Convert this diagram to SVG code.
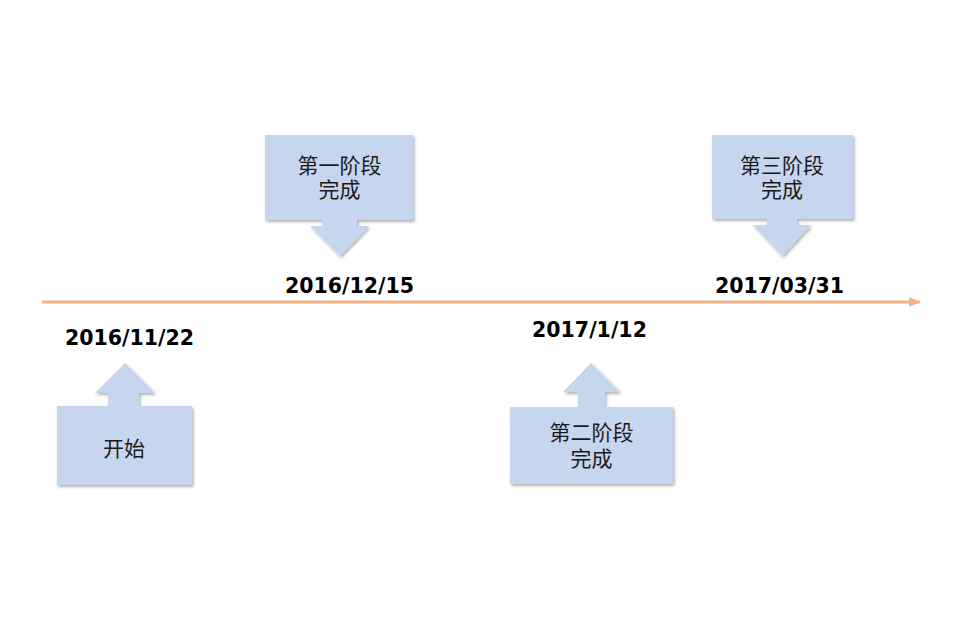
<svg xmlns="http://www.w3.org/2000/svg" width="979" height="642" viewBox="0 0 979 642">
<defs>
<filter id="sh" x="-10%" y="-10%" width="130%" height="130%">
<feDropShadow dx="1.5" dy="2" stdDeviation="1.5" flood-color="#000" flood-opacity="0.3"/>
</filter>
<marker id="arr" viewBox="0 0 10 10" refX="9" refY="5" markerWidth="4" markerHeight="4" orient="auto" markerUnits="strokeWidth">
<path d="M0,1 L10,5 L0,9 Z" fill="#f4b183"/>
</marker>
<style>
.box{fill:#c6d6ee;filter:url(#sh);}
.cn{font-family:"Noto Sans CJK SC","Noto Sans",sans-serif;font-size:21px;fill:#1a1a1a;text-anchor:middle;}
.dt{font-family:"DejaVu Sans",sans-serif;font-weight:bold;font-size:20.5px;fill:#000;text-anchor:middle;}
</style>
</defs>
<rect width="979" height="642" fill="#fff"/>
<g id="connectors">
<line x1="42" y1="302" x2="920" y2="302" stroke="#f4b183" stroke-width="3" marker-end="url(#arr)"/>
</g>
<g id="node-start">
<path class="box" d="M57,406 H108 V393 H95 L125,363 L155,393 H139 V406 H192 V485 H57 Z"/>
<text class="cn" x="124" y="456">开始</text>
<text class="dt" x="129.5" y="345">2016/11/22</text>
</g>
<g id="node-stage1">
<path class="box" d="M265,135 H413 V220 H357 V226 H369 L340,256 L310,226 H322 V220 H265 Z"/>
<text class="cn" x="339.5" y="173">第一阶段</text>
<text class="cn" x="339.5" y="197">完成</text>
<text class="dt" x="349.5" y="293">2016/12/15</text>
</g>
<g id="node-stage2">
<path class="box" d="M510,407 H578 V392 H563 L591,363 L620,392 H605 V407 H673 V484 H510 Z"/>
<text class="cn" x="591.5" y="440">第二阶段</text>
<text class="cn" x="591.5" y="466">完成</text>
<text class="dt" x="589.5" y="337">2017/1/12</text>
</g>
<g id="node-stage3">
<path class="box" d="M712,135 H853 V219 H797 V225 H811 L782,256 L753,225 H767 V219 H712 Z"/>
<text class="cn" x="782" y="173">第三阶段</text>
<text class="cn" x="782" y="197">完成</text>
<text class="dt" x="779.5" y="293">2017/03/31</text>
</g>
</svg>
